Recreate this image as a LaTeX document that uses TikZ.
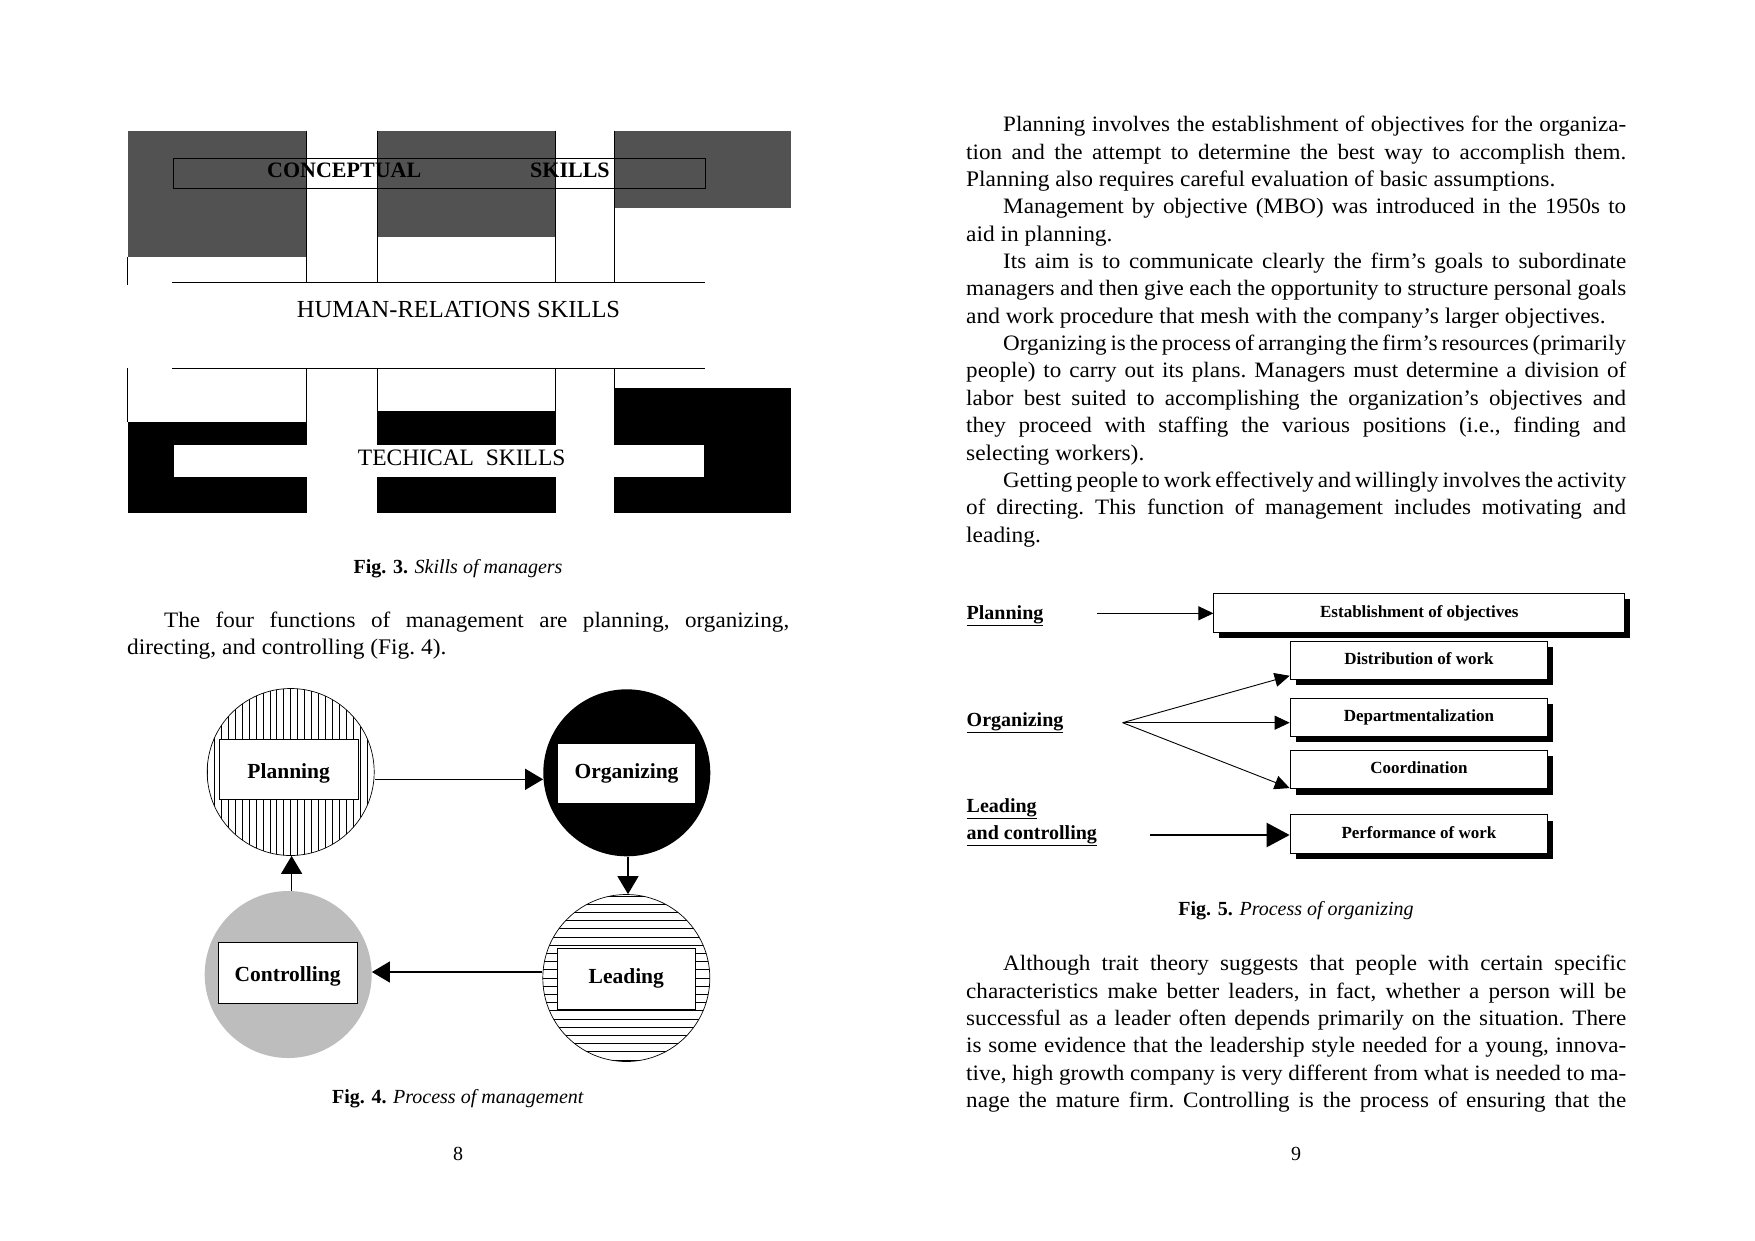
\documentclass[tikz,border=0pt]{standalone}
\usepackage{fontspec}
\setmainfont{Liberation Serif}
\newfontfamily\bodyfont{Liberation Serif}[FakeStretch=1.05,Ligatures=TeX]
\usetikzlibrary{arrows.meta,shadows,calc}
\newskip\tightsp
% justified line / natural line
\newcommand{\JL}[5]{\node[anchor=base west,inner sep=0pt,font=\bodyfont\fontsize{22}{27}\selectfont\frenchspacing] (#1) at (#2,#3) {\tightsp=0.2em plus 1em minus 0.06em\relax\spaceskip=\tightsp\relax\makebox[#4pt][s]{#5}};}
\newcommand{\NL}[4]{\node[anchor=base west,inner sep=0pt,font=\bodyfont\fontsize{22.3}{27}\selectfont\frenchspacing] (#1) at (#2,#3) {#4};}
\tikzset{
  circ/.style={circle, minimum size=167pt, inner sep=0pt},
  fbox/.style={draw, fill=white, minimum width=138.6pt, minimum height=60.5pt, inner sep=0pt,
     font=\fontsize{21.5}{26}\selectfont\bfseries, line width=0.8pt},
  lowtext/.style={text height=18pt, text depth=0.8pt},
  marr/.style={line width=1.4pt, -{Triangle[length=18pt,width=21pt]}},
  sbox/.style={draw, fill=white, line width=0.8pt, inner sep=0pt, text height=12pt, text depth=3.5pt,
     font=\fontsize{17}{20}\selectfont\bfseries,
     drop shadow={shadow xshift=5.5pt, shadow yshift=-6pt, opacity=1, fill=black}},
  farr/.style={line width=0.9pt, -{Triangle[length=15pt,width=14pt]}},
  lab/.style={anchor=base west, inner sep=0pt, font=\fontsize{20}{24}\selectfont\bfseries},
  figcap/.style={anchor=base, inner sep=0pt, font=\fontsize{20}{24}\selectfont},
}
\begin{document}
\begin{tikzpicture}[x=1pt,y=-1pt,font=\fontsize{21.5}{27}\selectfont]
\useasboundingbox (0,0) rectangle (1755,1240);
\fill[white] (0,0) rectangle (1755,1240);

% ---------------- Fig. 3 ----------------
\fill[black!68] (127.8,130.7) rectangle (306.6,257.3);
\fill[black!68] (377.2,130.7) rectangle (555,237.3);
\fill[black!68] (613.9,130.7) rectangle (791.3,208.3);
\draw[line width=0.8pt] (127.8,257.3) -- (127.8,285);
\draw[line width=0.8pt] (306.6,130.7) -- (306.6,282.7);
\draw[line width=0.8pt] (377.2,130.7) -- (377.2,282.7);
\draw[line width=0.8pt] (555,130.7) -- (555,282.7);
\draw[line width=0.8pt] (613.9,130.7) -- (613.9,282.7);
\draw[line width=0.8pt] (172.3,282.7) -- (705,282.7);
\node[draw, line width=0.8pt, minimum width=531.8pt, minimum height=30pt, inner sep=0pt] (concept) at (439.1,173.3) {};
\node[anchor=base west, inner sep=0pt, font=\fontsize{22}{24}\selectfont\bfseries] (conc) at (267,177.3) {CONCEPTUAL};
\node[anchor=base west, inner sep=0pt, font=\fontsize{22}{24}\selectfont\bfseries] (concs) at (530,177.3) {SKILLS};
\node[anchor=base, inner sep=0pt, font=\fontsize{24.5}{26}\selectfont] (human) at (458.5,317.5) {HUMAN-RELATIONS SKILLS};

\draw[line width=0.8pt] (172.3,368.3) -- (705,368.3);
\draw[line width=0.8pt] (127.8,368.3) -- (127.8,422.3);
\draw[line width=0.8pt] (306.6,368.3) -- (306.6,513.3);
\draw[line width=0.8pt] (377.2,368.3) -- (377.2,513.3);
\draw[line width=0.8pt] (555,368.3) -- (555,513.3);
\draw[line width=0.8pt] (613.9,368.3) -- (613.9,513.3);
\fill[black] (127.8,422.3) rectangle (306.6,513.3);
\fill[black] (377.2,410.7) rectangle (555,513.3);
\fill[black] (613.9,388.3) rectangle (791.3,513.3);
\node[fill=white, minimum width=530pt, minimum height=32.3pt, inner sep=0pt] (techbox) at (439,461.1) {};
\node[anchor=base, inner sep=0pt, font=\fontsize{23.5}{26}\selectfont] (tech) at (461.7,465) {TECHICAL\ \ SKILLS};

\node[figcap] (cap3) at (458,573) {\textbf{Fig. 3.} \textit{Skills of managers}};

% left page text
\JL{lp1}{164}{627.2}{625}{The four functions of management are planning, organizing,}
\NL{lp2}{127}{654.4}{directing, and controlling (Fig. 4).}

% ---------------- Fig. 4 ----------------
\node[circ, draw, line width=0.7pt, path picture={
  \foreach \i in {-12,...,12}{\draw[line width=0.65pt] ([xshift=\i*6.95pt]path picture bounding box.north) -- ([xshift=\i*6.95pt]path picture bounding box.south);}
}] (plan) at (290.7,772) {};
\node[circ, fill=black] (org) at (626.8,772.8) {};
\node[circ, draw, line width=0.7pt, path picture={
  \foreach \i in {-10,...,10}{\draw[line width=0.75pt] ([yshift=\i*8.2pt]path picture bounding box.west) -- ([yshift=\i*8.2pt]path picture bounding box.east);}
}] (lead) at (626.3,978) {};
\node[circ, fill=black!26] (ctrl) at (288.2,974.5) {};

\node[fbox, lowtext] (planb) at (288.7,769.5) {Planning};
\node[fbox] (orgb) at (626.5,773.6) {Organizing};
\node[fbox] (leadb) at (626.3,978.8) {Leading};
\node[fbox, lowtext] (ctrlb) at (287.6,972.8) {Controlling};

\draw[marr] ($(plan.east)+(0,7.3)$) -- ($(org.west)+(0,6.5)$);
\draw[marr] ($(org.south)+(1.2,0)$) -- ($(lead.north)+(1.7,0)$);
\draw[marr] ($(lead.west)+(0,-6)$) -- ($(ctrl.east)+(0,-2.5)$);
\draw[marr] ($(ctrl.north)+(3.4,0)$) -- ($(plan.south)+(0.9,0)$);

\node[figcap] (cap4) at (458,1103) {\textbf{Fig. 4.} \textit{Process of management}};
\node[figcap] (pg8) at (458,1160) {8};

% ---------------- right page text ----------------
\JL{r1}{1003}{131.8}{623}{Planning involves the establishment of objectives for the organiza-}
\JL{r2}{966}{159.1}{660}{tion and the attempt to determine the best way to accomplish them.}
\NL{r3}{966}{186.5}{Planning also requires careful evaluation of basic assumptions.}
\JL{r4}{1003}{213.8}{623}{Management by objective (MBO) was introduced in the 1950s to}
\NL{r5}{966}{241.2}{aid in planning.}
\JL{r6}{1003}{268.5}{623}{Its aim is to communicate clearly the firm's goals to subordinate}
\JL{r7}{966}{295.9}{660}{managers and then give each the opportunity to structure personal goals}
\NL{r8}{966}{323.2}{and work procedure that mesh with the company's larger objectives.}
\JL{r9}{1003}{350.6}{623}{Organizing is the process of arranging the firm's resources (primarily}
\JL{r10}{966}{377.9}{660}{people) to carry out its plans. Managers must determine a division of}
\JL{r11}{966}{405.3}{660}{labor best suited to accomplishing the organization's objectives and}
\JL{r12}{966}{432.6}{660}{they proceed with staffing the various positions (i.e., finding and}
\NL{r13}{966}{460.0}{selecting workers).}
\JL{r14}{1003}{487.3}{623}{Getting people to work effectively and willingly involves the activity}
\JL{r15}{966}{514.7}{660}{of directing. This function of management includes motivating and}
\NL{r16}{966}{542.0}{leading.}

% ---------------- Fig. 5 ----------------
\node[sbox, minimum width=411pt, minimum height=39pt] (est) at (1419.3,612.8) {Establishment of objectives};
\node[sbox, minimum width=257.7pt, minimum height=38.3pt] (dist) at (1418.9,660.2) {Distribution of work};
\node[sbox, minimum width=257.7pt, minimum height=38.3pt] (dept) at (1418.9,717.2) {Departmentalization};
\node[sbox, minimum width=257.7pt, minimum height=38.3pt] (coo) at (1418.9,769.5) {Coordination};
\node[sbox, minimum width=257.7pt, minimum height=38.3pt] (perf) at (1418.9,833.8) {Performance of work};

\node[lab] (lplan) at (966.5,619) {\underline{Planning}};
\node[lab] (lorg) at (966.5,726) {\underline{Organizing}};
\node[lab] (llead) at (966.5,812) {\underline{Leading}};
\node[lab] (lctrl) at (966.5,839) {\underline{and controlling}};

\coordinate (pst) at (1097.3,613.3);
\draw[farr] (pst) -- (pst -| est.west);
\coordinate (fan) at (1122.6,722.7);
\draw[farr] (fan) -- ($(dist.south west)+(0,-4)$);
\draw[farr] (fan) -- (fan -| dept.west);
\draw[farr] (fan) -- ($(coo.south west)+(0,-1)$);
\coordinate (lst) at (1149.7,835);
\draw[line width=2.4pt, -{Triangle[length=23pt,width=24pt]}] (lst) -- (lst -| perf.west);

\node[figcap] (cap5) at (1296,915) {\textbf{Fig. 5.} \textit{Process of organizing}};

\JL{s1}{1003}{970.8}{623}{Although trait theory suggests that people with certain specific}
\JL{s2}{966}{998.1}{660}{characteristics make better leaders, in fact, whether a person will be}
\JL{s3}{966}{1025.4}{660}{successful as a leader often depends primarily on the situation. There}
\JL{s4}{966}{1052.7}{660}{is some evidence that the leadership style needed for a young, innova-}
\JL{s5}{966}{1080.0}{660}{tive, high growth company is very different from what is needed to ma-}
\JL{s6}{966}{1107.3}{660}{nage the mature firm. Controlling is the process of ensuring that the}

\node[figcap] (pg9) at (1296,1160) {9};
\end{tikzpicture}
\end{document}
